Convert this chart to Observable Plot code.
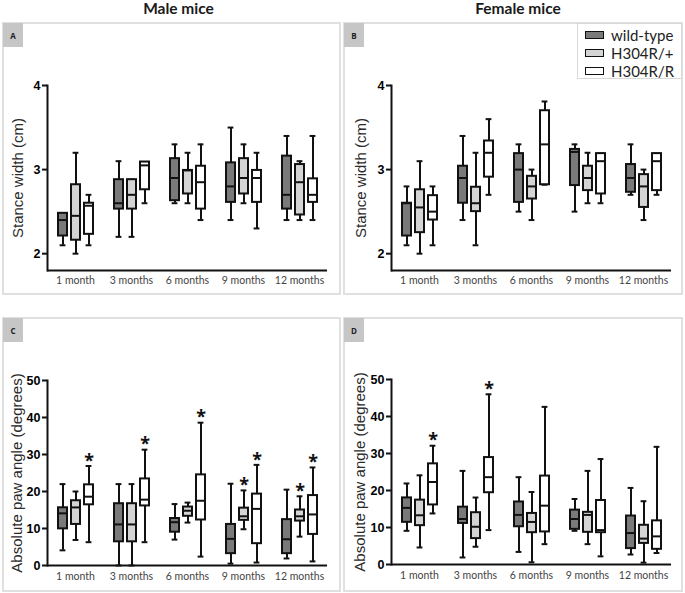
<!DOCTYPE html>
<html><head><meta charset="utf-8">
<script src="https://cdn.jsdelivr.net/npm/d3@7"></script>
<script src="https://cdn.jsdelivr.net/npm/@observablehq/plot@0.6"></script>
<style>
body{margin:0;background:#fff;}
#wrap{position:relative;width:685px;height:593px;overflow:hidden;background:#fff;}
.title{position:absolute;top:0px;line-height:17px;font-family:Lato,sans-serif;font-weight:700;font-size:15.5px;color:#1a1a1a;transform:translateX(-50%);white-space:nowrap;}
.panel{position:absolute;border:2px solid #e0e0e0;box-sizing:border-box;}
.tag{position:absolute;left:-1px;top:-1px;width:20px;height:24px;background:#c6c6c6;font-family:"Open Sans",sans-serif;font-weight:700;font-size:8px;display:flex;align-items:center;justify-content:center;color:#222;}
.plot{position:absolute;}
.plot svg{overflow:visible;}
.plot g[aria-label="y-axis tick label"]{font-weight:700;}
.legend{position:absolute;border:1px solid #d8d8d8;background:#fff;box-sizing:border-box;}
.lrow{position:absolute;left:7px;height:18px;display:flex;align-items:center;font-family:Lato,sans-serif;font-size:15px;color:#222;white-space:nowrap;}
.sw{width:17px;height:6px;border:1.5px solid #111;margin-right:7px;}
</style>
</head><body>
<div id="wrap"></div>
<script>
// ---- categories ----
const months = ["1 month", "3 months", "6 months", "9 months", "12 months"];
const genotypes = ["wild-type", "H304R/+", "H304R/R"];
const panelTitles = ["Male mice", "Female mice"];
const panelTags = ["A", "B", "C", "D"];
const stanceTicks = [2, 3, 4];
const angleTicks = [0, 10, 20, 30, 40, 50];

// ---- box statistics per month: [min, q1, median, q3, max] ----
// A: male stance width (cm)
const maleStanceWT  = [[2.1,2.21,2.40,2.48,2.48],[2.2,2.53,2.60,2.88,3.1],[2.6,2.63,2.90,3.13,3.3],[2.4,2.61,2.80,3.08,3.5],[2.4,2.53,2.70,3.16,3.4]];
const maleStanceHet = [[2.0,2.16,2.45,2.82,3.2],[2.2,2.53,2.70,2.88,2.88],[2.6,2.71,2.99,2.99,3.2],[2.6,2.71,2.90,3.13,3.3],[2.4,2.46,2.85,3.06,3.1]];
const maleStanceHom = [[2.1,2.23,2.57,2.60,2.7],[2.6,2.76,3.05,3.09,3.09],[2.4,2.53,2.85,3.04,3.3],[2.3,2.61,2.90,2.99,3.2],[2.4,2.61,2.70,2.89,3.4]];
// B: female stance width (cm)
const femaleStanceWT  = [[2.1,2.21,2.60,2.60,2.8],[2.4,2.60,2.90,3.04,3.4],[2.5,2.61,3.00,3.19,3.3],[2.5,2.81,3.21,3.24,3.3],[2.7,2.73,2.90,3.06,3.3]];
const femaleStanceHet = [[2.0,2.25,2.55,2.76,3.1],[2.1,2.50,2.60,2.79,3.2],[2.4,2.65,2.80,2.92,3.0],[2.6,2.75,2.90,3.04,3.2],[2.4,2.55,2.80,2.94,3.0]];
const femaleStanceHom = [[2.1,2.40,2.50,2.69,2.8],[2.7,2.91,3.20,3.34,3.6],[2.82,2.82,3.30,3.70,3.81],[2.6,2.71,3.10,3.19,3.19],[2.7,2.75,3.10,3.19,3.19]];
// C: male absolute paw angle (degrees)
const maleAngleWT  = [[4.1,9.9,14.1,15.6,22.0],[0,6.4,11.1,16.7,22.0],[7.0,9.0,11.7,12.7,16.6],[0.5,3.2,7.2,11.1,22.1],[1.9,3.2,7.1,12.4,20.5]];
const maleAngleHet = [[6.9,11.1,15.7,17.5,20.0],[0,6.4,11.1,16.7,22.0],[11.6,13.3,14.8,15.8,17.0],[9.8,12.2,13.3,15.5,20.3],[7.8,12.0,13.3,15.0,18.7]];
const maleAngleHom = [[6.3,16.4,18.6,21.8,26.9],[6.3,16.1,17.8,23.4,31.3],[2.4,12.3,17.5,24.5,38.6],[0.8,5.9,15.3,19.3,27.2],[1.1,8.4,13.8,18.9,26.5]];
// D: female absolute paw angle (degrees)
const femaleAngleWT  = [[9.1,11.4,15.3,18.0,21.9],[1.9,11.1,12.3,15.5,25.3],[3.4,10.2,13.4,16.9,23.6],[9.1,9.5,12.3,14.7,17.7],[2.7,4.3,8.5,13.1,20.7]];
const femaleAngleHet = [[4.6,10.5,13.3,17.4,24.1],[4.8,7.0,10.2,14.0,18.1],[0.6,8.6,11.5,13.8,19.6],[5.5,8.7,13.4,14.1,25.3],[0.5,5.7,7.0,10.6,17.1]];
const femaleAngleHom = [[13.8,16.1,22.3,27.2,32.1],[9.3,19.4,23.6,28.9,46.0],[5.5,8.8,15.9,23.9,42.6],[2.2,8.6,9.3,17.3,28.5],[3.1,4.1,7.6,11.8,31.8]];

// ---- significance markers (*) per month: [wild-type, H304R/+, H304R/R] ----
const maleAngleSig   = [[0,0,1],[0,0,1],[0,0,1],[0,1,1],[0,1,1]];
const femaleAngleSig = [[0,0,1],[0,0,1],[0,0,0],[0,0,0],[0,0,0]];

// ---- style ----
const fills = ["#7a7a7a", "#d4d4d4", "#ffffff"];
const ink = "#111";

const wrap = document.getElementById("wrap");

function el(tag, cls, style, text) {
  const e = document.createElement(tag);
  if (cls) e.className = cls;
  if (style) Object.assign(e.style, style);
  if (text != null) e.textContent = text;
  return e;
}

// titles
wrap.appendChild(el("div", "title", {left: "178.5px"}, panelTitles[0]));
wrap.appendChild(el("div", "title", {left: "518px"}, panelTitles[1]));

const boxes = [
  {left: 2, top: 22, w: 339, h: 273},
  {left: 343, top: 22, w: 340, h: 273},
  {left: 2, top: 317, w: 339, h: 275},
  {left: 343, top: 317, w: 340, h: 275}
];
boxes.forEach((b, i) => {
  const p = el("div", "panel", {left: b.left + "px", top: b.top + "px", width: b.w + "px", height: b.h + "px"});
  p.appendChild(el("div", "tag", null, panelTags[i]));
  wrap.appendChild(p);
});

function rowsFrom(statsByGenotype, sig) {
  const rows = [];
  genotypes.forEach((g, gi) => statsByGenotype[gi].forEach((s, mi) => {
    rows.push({month: months[mi], genotype: g, min: s[0], q1: s[1], med: s[2], q3: s[3], max: s[4], sig: sig ? sig[mi][gi] : 0});
  }));
  return rows;
}

function boxPanel({rows, yDomain, yTicks, yLabel, width, height, marginLeft, marginRight, marginTop, marginBottom, fxPad, labelDx}) {
  const c = {fx: "month", x: "genotype"};
  return Plot.plot({
    width, height, marginLeft, marginRight, marginTop, marginBottom,
    style: {background: "transparent", overflow: "visible"},
    fx: {domain: months, padding: 0, label: null},
    x: {domain: genotypes, paddingInner: 0.32, paddingOuter: 0.77, axis: null},
    y: {domain: yDomain},
    color: {domain: genotypes, range: fills},
    marks: [
      Plot.ruleY([yDomain[0]], {stroke: ink, strokeWidth: 2}),
      Plot.frame({anchor: "left", facetAnchor: "left", stroke: ink, strokeWidth: 2}),
      Plot.ruleX(rows, {...c, y1: "min", y2: "max", stroke: ink, strokeWidth: 2}),
      Plot.tickY(rows, {...c, y: "min", stroke: ink, strokeWidth: 2, insetLeft: 1.6, insetRight: 1.6}),
      Plot.tickY(rows, {...c, y: "max", stroke: ink, strokeWidth: 2, insetLeft: 1.6, insetRight: 1.6}),
      Plot.barY(rows, {...c, y1: "q1", y2: "q3", fill: "genotype", stroke: ink, strokeWidth: 2}),
      Plot.tickY(rows, {...c, y: "med", stroke: ink, strokeWidth: 2}),
      Plot.text(rows.filter(d => d.sig), {...c, y: "max", text: () => "*", dy: -5, fontSize: 18, fontWeight: "bold", fill: ink}),
      Plot.axisY({ticks: yTicks, tickSize: 5, tickPadding: 2, strokeWidth: 2, stroke: ink, fill: "#000", fontSize: 12.5, fontWeight: 700, fontFamily: "Liberation Sans", label: null, tickFormat: d => String(d)}),
      Plot.text([yLabel], {frameAnchor: "left", facetAnchor: "left", textAnchor: "middle", lineAnchor: "middle", rotate: -90, dx: labelDx, fontSize: 15, fontWeight: "normal", fill: "#2a2a2a", fontFamily: "Liberation Sans"}),
      Plot.axisFx({anchor: "bottom", tickSize: 0, tickPadding: fxPad, fontSize: 10.5, fontFamily: "Lato", fill: "#444", label: null})
    ]
  });
}

const panels = [
  {rows: rowsFrom([maleStanceWT, maleStanceHet, maleStanceHom]), yDomain: [1.8, 4], yTicks: stanceTicks, yLabel: "Stance width (cm)"},
  {rows: rowsFrom([femaleStanceWT, femaleStanceHet, femaleStanceHom]), yDomain: [1.8, 4], yTicks: stanceTicks, yLabel: "Stance width (cm)"},
  {rows: rowsFrom([maleAngleWT, maleAngleHet, maleAngleHom], maleAngleSig), yDomain: [0, 50], yTicks: angleTicks, yLabel: "Absolute paw angle (degrees)"},
  {rows: rowsFrom([femaleAngleWT, femaleAngleHet, femaleAngleHom], femaleAngleSig), yDomain: [0, 50], yTicks: angleTicks, yLabel: "Absolute paw angle (degrees)"}
];
const geo = [
  {width: 339, height: 273, marginLeft: 43, marginRight: 13, marginTop: 63, marginBottom: 25, fxPad: 6, labelDx: -29},
  {width: 340, height: 273, marginLeft: 46, marginRight: 10, marginTop: 63, marginBottom: 25, fxPad: 6, labelDx: -30},
  {width: 339, height: 275, marginLeft: 43, marginRight: 13, marginTop: 63, marginBottom: 27, fxPad: 7, labelDx: -30},
  {width: 340, height: 275, marginLeft: 46, marginRight: 10, marginTop: 62, marginBottom: 28, fxPad: 7, labelDx: -31}
];
panels.forEach((p, i) => {
  const holder = el("div", "plot", {left: boxes[i].left + "px", top: boxes[i].top + "px"});
  holder.appendChild(boxPanel({...p, ...geo[i]}));
  wrap.appendChild(holder);
});

// legend (in panel B)
const legend = el("div", "legend", {left: "577px", top: "23px", width: "105px", height: "56px"});
genotypes.forEach((g, i) => {
  const r = el("div", "lrow", {top: (2 + i * 18) + "px"});
  r.appendChild(el("div", "sw", {background: fills[i]}));
  r.appendChild(el("span", null, null, g));
  legend.appendChild(r);
});
wrap.appendChild(legend);
</script>
</body></html>
